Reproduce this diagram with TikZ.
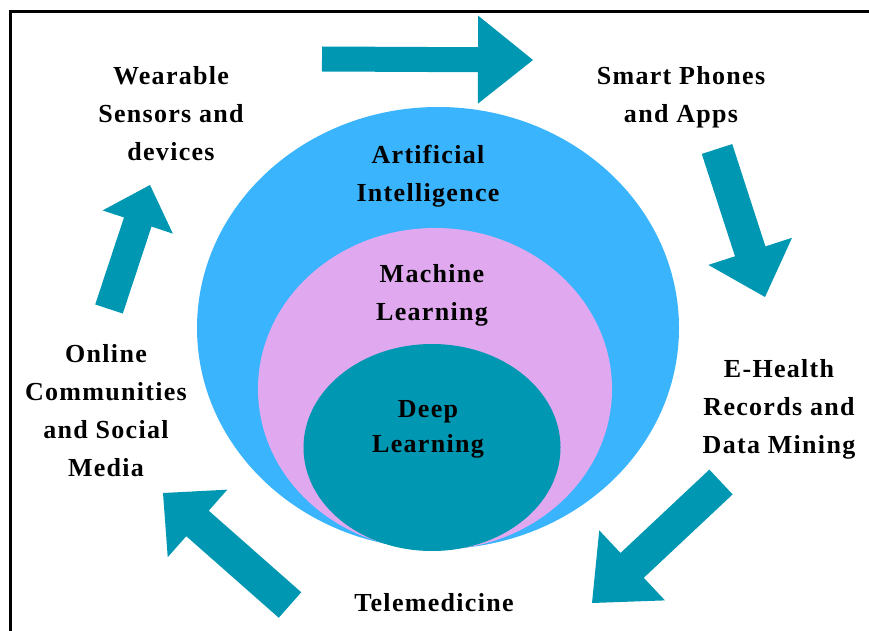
\documentclass[tikz,border=0pt]{standalone}
\usepackage{fontspec}
\setmainfont{Liberation Serif}[LetterSpace=5]
\usetikzlibrary{calc}
\definecolor{tealc}{RGB}{0,151,178}
\definecolor{aiblue}{RGB}{58,181,253}
\definecolor{mlpink}{RGB}{224,168,238}
\newcommand\blockarrow[5]{%
  \coordinate (#1-#2-b) at ($(#2)!#5!(#1)$);
  \fill[arrowfill] ($(#1)!#3!90:(#2)$) -- ($(#1-#2-b)!#3!90:(#2)$) -- ($(#1-#2-b)!#4!90:(#2)$) -- (#2)
    -- ($(#1-#2-b)!#4!-90:(#2)$) -- ($(#1-#2-b)!#3!-90:(#2)$) -- ($(#1)!#3!-90:(#2)$) -- cycle;}
\begin{document}
\begin{tikzpicture}[x=1pt,y=-1pt,
  lbl/.style={font=\fontsize{26}{38}\selectfont\bfseries, align=center, inner sep=0pt, text=black},
  arrowfill/.style={fill=tealc}]
\useasboundingbox (0,0) rectangle (869,631);
\draw[line width=3pt] (869,12) -- (10,12) -- (10,631);
% nested sets
\fill[aiblue] (438,328) ellipse [x radius=241, y radius=221];
\fill[mlpink] (435,389) ellipse [x radius=177, y radius=161];
\fill[tealc] (432,447.5) ellipse [x radius=128.5, y radius=103.5];
\node[lbl] (ai) at (428,176.5) {Artificial\\Intelligence};
\node[lbl] (ml) at (432,295) {Machine\\Learning};
\node[lbl, font=\fontsize{26}{35}\selectfont\bfseries] (dl) at (428,429) {Deep\\Learning};
% outer labels
\node[lbl] (wear) at (171,114) {Wearable\\Sensors and\\devices};
\node[lbl] (phone) at (681,97) {Smart Phones\\and Apps};
\node[lbl] (ehr) at (779,409) {E-Health\\Records and\\Data Mining};
\node[lbl] (tele) at (434,603) {Telemedicine};
\node[lbl] (online) at (106,411) {Online\\Communities\\and Social\\Media};
% block arrows
\coordinate (t1) at (322,59);  \coordinate (h1) at (533,60);
\coordinate (t2) at (717,149); \coordinate (h2) at (765,297);
\coordinate (t3) at (721,482); \coordinate (h3) at (592,603);
\coordinate (t4) at (290,605); \coordinate (h4) at (163,493);
\coordinate (t5) at (109,309); \coordinate (h5) at (150,185);
\blockarrow{t1}{h1}{12.5pt}{44pt}{55pt}
\blockarrow{t2}{h2}{16pt}{44pt}{48pt}
\blockarrow{t3}{h3}{17pt}{48pt}{55pt}
\blockarrow{t4}{h4}{17pt}{45pt}{46pt}
\blockarrow{t5}{h5}{14.5pt}{37pt}{39pt}
\end{tikzpicture}
\end{document}
